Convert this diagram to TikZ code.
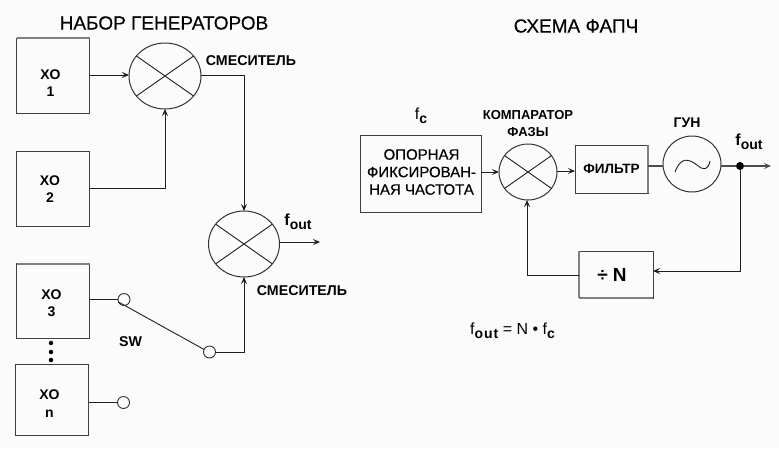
\documentclass[tikz,border=0pt]{standalone}
\usepackage{fontspec}
\setmainfont{Liberation Sans}
\newfontfamily\medfont[FakeBold=0.35]{Liberation Sans}
\usetikzlibrary{arrows.meta,shapes.geometric}
\newcommand{\lowtxt}[1]{\raisebox{-4pt}{\bfseries\fontsize{14}{14}\selectfont #1}}
\tikzset{
  x=1pt,y=-1pt,
  line/.style={draw=black!88,line width=0.9pt},
  arrowed/.style={line,-{Stealth[length=7pt,width=6pt,inset=3pt]}},
  heavy/.style={draw=black!70,line width=1.7pt},
  greyedge/.style={draw=black!50,line width=2pt},
  blockbox/.style={rectangle,draw=black!75,line width=1pt,inner sep=0pt,outer sep=0pt,align=center},
  mixer/.style={ellipse,draw=black!80,line width=1pt,inner sep=0pt,outer sep=0pt},
  contact/.style={circle,draw=black!80,line width=0.9pt,fill=none,minimum size=12pt,inner sep=0pt,outer sep=0pt},
  junction/.style={circle,fill=black,minimum size=8pt,inner sep=0pt,outer sep=0pt},
  dotmark/.style={circle,fill=black,minimum size=4.5pt,inner sep=0pt,outer sep=0pt},
  title/.style={font=\medfont\fontsize{19}{19}\selectfont,inner sep=0pt},
  xolabel/.style={font=\bfseries\fontsize{14}{17.5}\selectfont,inner sep=0pt,align=center},
  smalllabel/.style={font=\bfseries\fontsize{14.2}{15}\selectfont,inner sep=0pt,align=center},
  blocktext/.style={font=\medfont\fontsize{15}{17.5}\selectfont},
}
\begin{document}
\begin{tikzpicture}
\useasboundingbox (0,0) rectangle (779,448);
\fill[black!1.5] (0,0) rectangle (779,448);

\node[title] (t1) at (164,23) {НАБОР ГЕНЕРАТОРОВ};
\node[title] (t2) at (576,26) {СХЕМА ФАПЧ};

% left: oscillators
\node[blockbox,minimum width=73pt,minimum height=75pt] (x1) at (53,75.5) {};
\node[blockbox,minimum width=73pt,minimum height=75pt] (x2) at (53,188.5) {};
\node[blockbox,minimum width=73pt,minimum height=75pt] (x3) at (53,301) {};
\node[blockbox,minimum width=73pt,minimum height=71pt] (xn) at (52,399.5) {};
\node[xolabel] (x1t) at (50.5,83) {XO\\1};
\node[xolabel] (x2t) at (50,189) {XO\\2};
\node[xolabel] (x3t) at (51.5,303) {XO\\3};
\node[xolabel] (xnt) at (49.5,403.5) {XO\\n};
\draw[greyedge] (x1.north west) -- (x1.north east);
\draw[greyedge] (x3.north west) -- (x3.north east);
\node[dotmark] (d1) at (51,343) {};
\node[dotmark] (d2) at (51,352) {};
\node[dotmark] (d3) at (51,360) {};

% left: mixers
\node[mixer,minimum width=72pt,minimum height=66pt] (m1) at (165,76) {};
\node[mixer,minimum width=71pt,minimum height=66pt] (m2) at (244,244) {};
\foreach \m in {m1,m2}{
  \draw[line] (\m.145) -- (\m.-35);
  \draw[line] (\m.-145) -- (\m.35);
}
\node[smalllabel] (l1) at (251,61) {СМЕСИТЕЛЬ};
\node[smalllabel] (l2) at (302,291) {СМЕСИТЕЛЬ};
\node[inner sep=0pt,font=\bfseries\fontsize{16}{16}\selectfont] (f1) at (298,222) {f\lowtxt{out}};
\node[smalllabel] (sw) at (130.5,342) {SW};

% left: switch
\node[contact] (c1) at (124,299.5) {};
\node[contact] (c2) at (209.5,352) {};
\node[contact] (c3) at (123.5,402.5) {};
\coordinate (o1) at (320,242);

\draw[arrowed] (x1.east |- 0,75) -- (m1.west |- 0,75);
\draw[arrowed] (x2.east) -| (m1.south);
\draw[arrowed] (m1.east |- 0,75) -| (m2.north);
\draw[arrowed] (m2.east |- o1) -- (o1);
\draw[line] (x3.east |- c1) -- (c1.west);
\draw[line] (c1.-155) -- (c2.155);
\draw[arrowed] (c2.east) -| (m2.south);
\draw[line] (xn.east |- c3) -- (c3.west);

% right: PLL
\node[blockbox,minimum width=121pt,minimum height=77pt] (ref) at (420.5,173.5) {};
\node[blocktext,inner sep=0pt,align=center] (reft) at (421.5,172) {ОПОРНАЯ\\ФИКСИРОВАН-\\НАЯ ЧАСТОТА};
\node[mixer,minimum width=58pt,minimum height=56pt] (m3) at (528,172) {};
\draw[line] (m3.145) -- (m3.-35);
\draw[line] (m3.-145) -- (m3.35);
\node[blockbox,minimum width=73pt,minimum height=48pt,font=\bfseries\fontsize{13.5}{15}\selectfont] (fil) at (611.5,169) {ФИЛЬТР};
\draw[greyedge] (fil.north east) -- (fil.south east);
\node[mixer,minimum width=58pt,minimum height=56pt] (vco) at (692,164) {};
\draw[line] (675,172) .. controls (681,156) and (689,159) .. (697,165) .. controls (704,171) and (708,170) .. (710,161);
\node[junction] (j) at (740,166) {};
\coordinate (o2) at (771,166);
\node[blockbox,minimum width=74pt,minimum height=47pt,font=\bfseries\fontsize{19}{19}\selectfont] (div) at (616,274.5) {÷\kern5pt N\kern8pt};
\draw[greyedge] (div.north west) -- (div.south west);
\draw[greyedge] (div.south west) -- (div.south east);

\node[inner sep=0pt,font=\fontsize{16}{16}\selectfont] (fc) at (421,116) {f\lowtxt{c}};
\node[smalllabel,font=\bfseries\fontsize{13}{17}\selectfont] (cmp) at (528,124) {КОМПАРАТОР\\ФАЗЫ};
\node[smalllabel,font=\bfseries\fontsize{14}{14}\selectfont] (vl) at (687,123) {ГУН};
\node[inner sep=0pt,font=\bfseries\fontsize{16}{16}\selectfont] (f2) at (749,142) {f\lowtxt{out}};
\node[inner sep=0pt,font=\fontsize{16}{16}\selectfont] (eq) at (512.5,331) {f\lowtxt{o\kern1pt u\kern1pt t} = N • f\lowtxt{c}};

\draw[arrowed] (ref.east |- m3) -- (m3.west);
\draw[arrowed] (m3.east |- 0,171) -- (fil.west |- 0,171);
\draw[heavy] (fil.east |- 0,166) -- (vco.west |- 0,166);
\draw[heavy] (vco.east |- 0,166) -- (j.west);
\draw[heavy,-{Stealth[length=7pt,width=6pt,inset=3pt]}] (j.east) -- (o2);
\draw[arrowed] (j.south) |- (div.east |- 0,271);
\draw[arrowed] (div.west |- 0,275) -| ([xshift=-1pt]m3.south);
\end{tikzpicture}
\end{document}
